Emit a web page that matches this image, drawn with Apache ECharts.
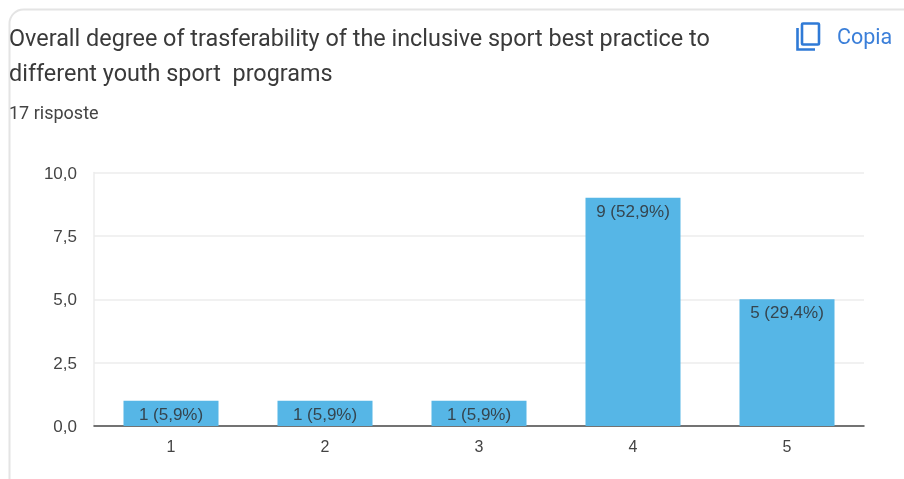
<!DOCTYPE html>
<html>
<head>
<meta charset="utf-8">
<style>html,body{margin:0;padding:0;background:#fff}#c{width:904px;height:479px}</style>
<script src="https://cdn.jsdelivr.net/npm/echarts@6/dist/echarts.min.js"></script>
</head>
<body>
<div id="c"></div>
<script>
const categories = ['1','2','3','4','5'];
const counts = [1,1,1,9,5];
const barLabels = ['1 (5,9%)','1 (5,9%)','1 (5,9%)','9 (52,9%)','5 (29,4%)'];
const titleLines = ['Overall degree of trasferability of the inclusive sport best practice to','different youth sport  programs'];
const subtitle = '17 risposte';
const copyLabel = 'Copia';
const yTicks = {min:0,max:10,interval:2.5};

const chart = echarts.init(document.getElementById('c'),null,{renderer:'canvas'});
chart.setOption({
  animation:false,
  grid:{left:94,right:40,top:172.5,bottom:53,containLabel:false},
  xAxis:{type:'category',data:categories,
    axisLine:{show:true,lineStyle:{color:'#4a4a4a',width:1.5}},
    axisTick:{show:false},
    axisLabel:{color:'#444',fontSize:16,fontFamily:'Liberation Sans',margin:14},
    splitLine:{show:false}},
  yAxis:{type:'value',min:yTicks.min,max:yTicks.max,interval:yTicks.interval,
    axisLine:{show:true,lineStyle:{color:'#ececec',width:1.5}},
    axisTick:{show:false},
    axisLabel:{margin:17,
      formatter:v=>'{v|'+v.toFixed(1).replace('.',',')+'}',
      rich:{v:{color:'#444',fontSize:17,fontFamily:'Liberation Sans',padding:[3,0,0,0]}}},
    splitLine:{show:true,lineStyle:{color:'#ececec',width:1.5}}},
  series:[{type:'bar',data:counts,barWidth:'61.7%',
    itemStyle:{color:'#56b6e6'},
    label:{show:true,position:'insideTop',distance:6,color:'#35454f',fontSize:17,fontFamily:'Liberation Sans',
      formatter:p=>barLabels[p.dataIndex]}}],
  graphic:[
    {type:'rect',silent:true,shape:{x:9.5,y:9.5,width:1000,height:600,r:14},
      style:{fill:'none',stroke:'#e4e4e4',lineWidth:2}},
    {type:'text',x:9,y:29,style:{text:titleLines[0],fill:'#3a3a3a',fontSize:23.4,fontFamily:'Roboto'}},
    {type:'text',x:9,y:64,style:{text:titleLines[1],fill:'#3a3a3a',fontSize:23.4,fontFamily:'Roboto'}},
    {type:'text',x:9,y:105,style:{text:subtitle,fill:'#444',fontSize:18,fontFamily:'Roboto'}},
    {type:'text',x:837,y:27.5,style:{text:copyLabel,fill:'#3b7fd9',fontSize:21.5,fontFamily:'Roboto'}},
    {type:'rect',silent:true,shape:{x:802,y:23.5,width:17,height:21,r:1},
      style:{fill:'none',stroke:'#2f7ad6',lineWidth:2.6}},
    {type:'polyline',silent:true,shape:{points:[[797.5,28],[797.5,49.5],[815,49.5]]},
      style:{fill:'none',stroke:'#2f7ad6',lineWidth:2.6}}
  ]
});
</script>
</body>
</html>
